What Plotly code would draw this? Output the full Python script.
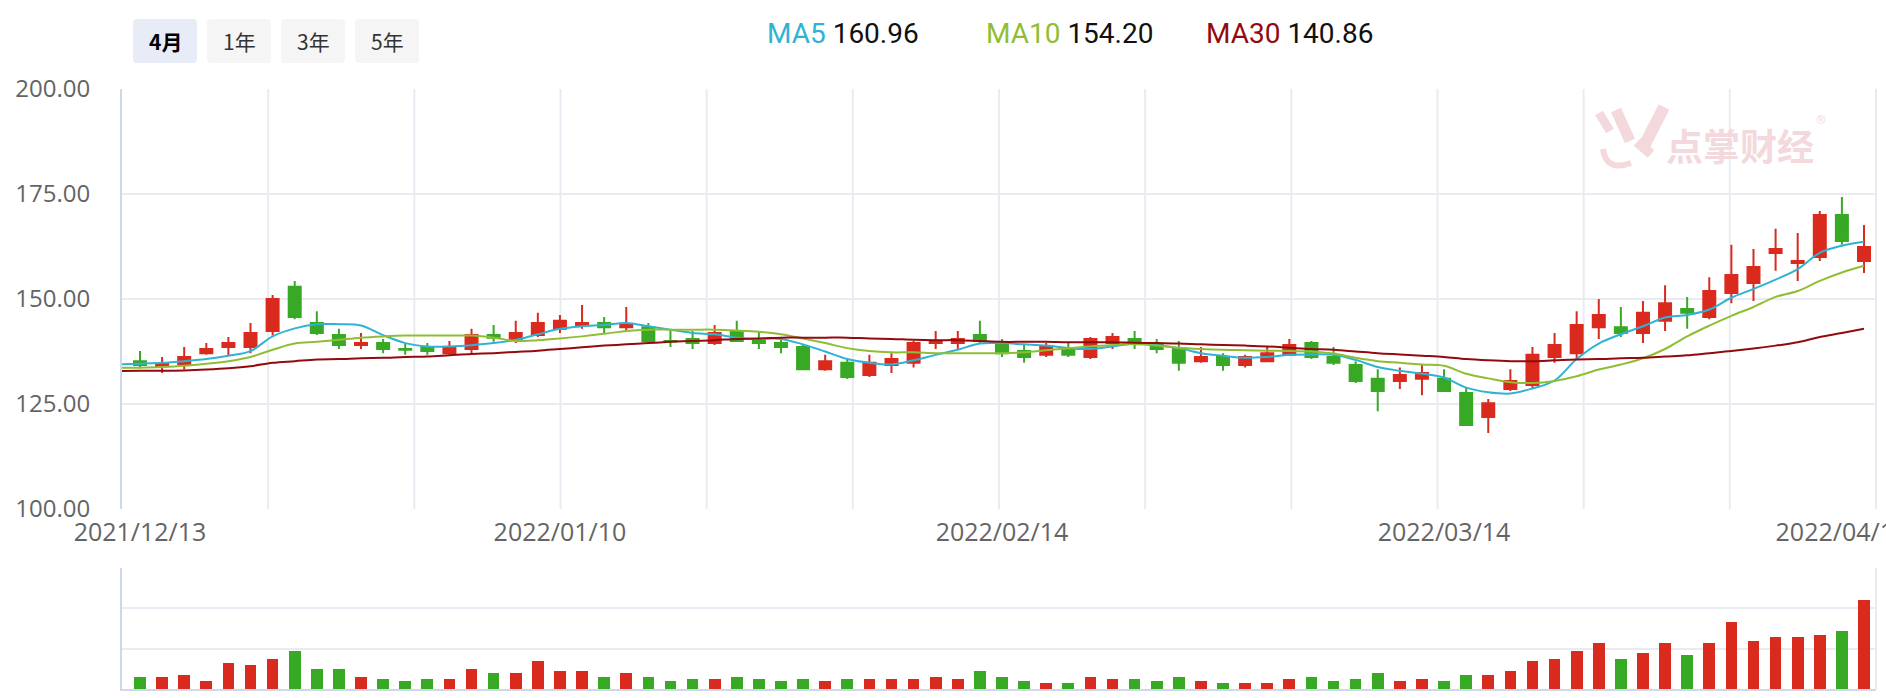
import plotly.graph_objects as go

W, H = 1886, 698

# ---------------- data ----------------
# trading days shown as candles
dates = (["2021/12/%02d" % d for d in [13, 14, 15, 16, 17, 20, 21, 22, 23, 24, 27, 28, 29, 30, 31]]
         + ["2022/01/%02d" % d for d in [4, 5, 6, 7, 10, 11, 12, 13, 14, 17, 18, 19, 20, 21, 24, 25, 26, 27, 28]]
         + ["2022/02/%02d" % d for d in [7, 8, 9, 10, 11, 14, 15, 16, 17, 18, 21, 22, 23, 24, 25, 28]]
         + ["2022/03/%02d" % d for d in [1, 2, 3, 4, 7, 8, 9, 10, 11, 14, 15, 16, 17, 18, 21, 22, 23, 24, 25, 28, 29, 30, 31]]
         + ["2022/04/%02d" % d for d in [1, 6, 7, 8, 11, 12]])
# the moving-average lines start one day earlier (just off the left edge)
ma_dates = ["2021/12/10"] + dates

open_ = [135.2, 134.0, 134.4, 137.1, 138.6, 138.6, 142.4, 152.9, 144.3, 141.4,
         139.05, 139.5, 138.1, 138.6, 137.1, 138.1, 141.4, 140.5, 141.4, 142.9,
         143.8, 144.3, 143.3, 143.3, 140.0, 140.5, 139.5, 142.4, 140.0, 139.5,
         138.6, 133.3, 134.8, 131.9, 134.3, 134.8, 139.5, 139.5, 141.4, 139.5,
         137.6, 136.7, 138.1, 136.2, 139.5, 140.5, 139.05, 138.1, 135.2, 136.2,
         134.3, 135.2, 136.7, 139.5, 136.2, 134.3, 131.0, 130.5, 131.0, 131.0,
         127.6, 121.9, 128.6, 129.5, 136.2, 137.1, 143.3, 143.3, 141.9, 144.8,
         147.6, 145.7, 151.4, 153.8, 160.95, 158.6, 160.0, 170.0, 159.05]
high = [137.6, 136.2, 138.6, 139.5, 140.95, 144.3, 150.95, 154.3, 147.1, 142.9,
        141.9, 140.5, 139.4, 139.5, 140.0, 142.9, 143.8, 144.8, 146.7, 146.2,
        148.6, 145.7, 148.1, 144.3, 142.4, 142.4, 143.8, 144.8, 142.4, 140.5,
        139.05, 136.7, 135.7, 136.7, 137.1, 140.0, 142.4, 142.4, 144.8, 140.5,
        139.05, 139.5, 139.5, 140.95, 141.9, 142.4, 140.5, 140.0, 138.6, 137.1,
        136.7, 138.6, 140.5, 140.0, 138.6, 135.2, 133.3, 133.7, 134.3, 133.3,
        129.0, 126.2, 133.3, 138.6, 141.9, 147.1, 150.0, 148.1, 149.5, 153.3,
        150.5, 155.2, 162.9, 161.9, 166.7, 165.7, 170.95, 174.3, 167.6]
low = [133.5, 132.4, 133.2, 136.7, 136.5, 137.1, 141.3, 145.2, 141.4, 138.1,
       138.1, 137.1, 136.7, 136.7, 136.7, 137.1, 139.8, 139.5, 140.95, 141.9,
       142.9, 141.9, 142.4, 139.5, 138.6, 138.1, 139.05, 139.9, 138.1, 137.1,
       133.3, 132.9, 130.95, 131.4, 132.4, 133.7, 138.1, 138.1, 139.5, 136.2,
       134.8, 136.2, 136.2, 135.7, 138.1, 138.1, 137.1, 132.9, 134.8, 132.9,
       133.7, 135.2, 136.7, 135.7, 134.3, 130.0, 123.3, 128.6, 127.1, 128.1,
       120.0, 118.1, 128.1, 128.6, 134.8, 135.7, 140.5, 140.95, 139.5, 142.4,
       142.9, 145.2, 149.0, 149.5, 156.7, 154.3, 159.05, 162.9, 156.2]
close = [134.3, 134.6, 136.2, 138.1, 139.5, 141.9, 150.0, 145.7, 141.9, 139.05,
         139.5, 138.1, 137.9, 137.6, 138.6, 141.4, 140.8, 141.9, 144.3, 144.8,
         144.3, 143.3, 143.8, 140.0, 139.9, 139.5, 141.9, 140.0, 139.5, 138.6,
         133.3, 135.2, 131.4, 134.8, 135.7, 139.5, 140.0, 140.5, 140.0, 137.1,
         136.2, 138.6, 136.7, 140.5, 140.95, 139.5, 138.1, 134.8, 136.2, 134.3,
         136.2, 137.1, 139.05, 136.2, 134.8, 130.5, 128.1, 131.9, 132.4, 128.1,
         120.0, 125.2, 130.5, 136.7, 139.05, 143.8, 146.2, 141.9, 146.7, 149.0,
         146.7, 151.9, 155.7, 157.6, 161.9, 159.05, 170.0, 163.8, 162.4]

volume = [12, 12, 14, 8, 26, 24, 30, 38, 20, 20,
          12, 10, 8, 10, 10, 20, 16, 16, 28, 18,
          18, 12, 16, 12, 8, 10, 10, 12, 10, 8,
          10, 8, 10, 10, 10, 10, 12, 10, 18, 12,
          8, 6, 6, 12, 10, 10, 8, 12, 8, 6,
          6, 6, 10, 12, 8, 10, 16, 8, 10, 8,
          14, 14, 18, 28, 30, 38, 46, 30, 36, 46,
          34, 46, 66, 48, 52, 52, 54, 58, 88]

ma5 = [134.45,
       134.6, 134.8, 135.2, 135.7, 136.5, 137.6, 141.1, 143.0, 144.0, 144.0,
       143.7, 141.4, 139.5, 138.7, 138.7, 139.0, 139.5, 140.3, 141.6, 142.9,
       143.5, 143.8, 144.3, 143.5, 142.7, 141.9, 141.6, 140.8, 140.5, 140.5,
       139.2, 137.5, 135.7, 134.8, 134.4, 135.4, 136.7, 137.9, 139.4, 139.5,
       139.2, 138.9, 138.3, 138.1, 138.7, 139.4, 139.05, 138.3, 137.1, 136.5,
       136.0, 136.2, 136.7, 136.8, 136.7, 135.5, 133.8, 132.9, 132.2, 131.3,
       128.9, 127.8, 127.5, 128.7, 130.6, 135.7, 139.4, 141.6, 143.5, 145.6,
       146.2, 147.5, 150.3, 152.4, 154.6, 157.1, 161.0, 162.7, 163.65]
ma10 = [133.6,
        133.65, 133.8, 134.1, 134.6, 135.2, 136.2, 137.9, 139.4, 139.8, 140.3,
        140.8, 141.1, 141.3, 141.3, 141.3, 141.3, 140.8, 140.0, 140.2, 140.6,
        141.1, 141.7, 142.4, 142.7, 142.7, 142.7, 142.7, 142.5, 142.2, 141.6,
        140.6, 139.5, 138.3, 137.6, 137.3, 137.3, 137.1, 137.1, 137.1, 137.1,
        137.3, 137.8, 138.3, 138.7, 139.05, 139.2, 138.9, 138.4, 138.1, 137.9,
        137.8, 137.7, 137.6, 137.5, 137.0, 136.0, 135.2, 134.8, 134.4, 134.1,
        132.2, 131.1, 130.2, 130.0, 130.5, 131.6, 133.2, 134.4, 135.9, 138.1,
        141.1, 143.65, 146.0, 148.1, 150.5, 151.9, 154.3, 156.3, 157.9]
ma30 = [132.85,
        132.9, 132.9, 133.0, 133.2, 133.5, 134.0, 134.8, 135.2, 135.6, 135.7,
        135.9, 136.0, 136.2, 136.3, 136.6, 136.9, 137.1, 137.4, 137.7, 138.1,
        138.5, 138.9, 139.2, 139.5, 139.8, 140.0, 140.2, 140.5, 140.6, 140.8,
        140.8, 140.8, 140.8, 140.6, 140.5, 140.3, 140.2, 140.2, 140.0, 139.8,
        139.8, 139.8, 139.7, 139.7, 139.7, 139.6, 139.5, 139.4, 139.2, 139.05,
        138.9, 138.7, 138.4, 138.1, 137.9, 137.5, 137.1, 136.8, 136.5, 136.2,
        135.7, 135.4, 135.2, 135.2, 135.4, 135.6, 135.7, 135.9, 136.0, 136.3,
        136.6, 137.1, 137.6, 138.2, 138.9, 139.7, 140.95, 141.9, 142.9]

tick_dates = ["2021/12/13", "2022/01/10", "2022/02/14", "2022/03/14", "2022/04/11"]
y_ticks = [100, 125, 150, 175, 200]

ma_names = ["MA5", "MA10", "MA30"]
ma_legend_values = ["160.96", "154.20", "140.86"]
range_buttons = ["4月", "1年", "3年", "5年"]
watermark_text = "点掌财经"

# ---------------- styles ----------------
RED = "#da2a1d"
GREEN = "#38a925"
MA_COLORS = ["#2fb3d5", "#8fbe35", "#930a0e"]
GRID = "#e8ecf2"
AXIS = "#cdd8ea"
LABEL = "#646464"
WM = "#f4d9dc"


def px(x):
    return x / W


def py(y):
    return 1 - y / H


def P(x, y):
    return f"{px(x):.6f},{py(y):.6f}"


def rounded_rect(x0, y0, x1, y1, r):
    return (f"M {P(x0 + r, y0)} L {P(x1 - r, y0)} Q {P(x1, y0)} {P(x1, y0 + r)} "
            f"L {P(x1, y1 - r)} Q {P(x1, y1)} {P(x1 - r, y1)} L {P(x0 + r, y1)} "
            f"Q {P(x0, y1)} {P(x0, y1 - r)} L {P(x0, y0 + r)} Q {P(x0, y0)} {P(x0 + r, y0)} Z")


fig = go.Figure()

fig.add_trace(go.Candlestick(
    x=dates, open=open_, high=high, low=low, close=close,
    increasing=dict(line=dict(color=RED, width=2), fillcolor=RED),
    decreasing=dict(line=dict(color=GREEN, width=2), fillcolor=GREEN),
    whiskerwidth=0, xaxis="x", yaxis="y", hoverinfo="skip"))

for name, vals, col in zip(ma_names, [ma5, ma10, ma30], MA_COLORS):
    fig.add_trace(go.Scatter(x=ma_dates, y=vals, mode="lines", name=name,
                             line=dict(color=col, width=2, shape="spline", smoothing=1.0),
                             xaxis="x", yaxis="y", hoverinfo="skip"))

vol_colors = [RED if c >= o else GREEN for o, c in zip(open_, close)]
fig.add_trace(go.Bar(x=dates, y=volume, marker=dict(color=vol_colors, line=dict(width=0)),
                     width=0.53, xaxis="x2", yaxis="y2", hoverinfo="skip"))

# category positions: ma_dates[0] is position 0, first candle is position 1
xr = [0.186, 79.543]
xdom = [px(122), px(1876)]

shapes = []
# vertical grid lines of the price pane
for k in range(1, 13):
    shapes.append(dict(type="line", xref="x domain", yref="y domain", x0=k / 12, x1=k / 12,
                       y0=0, y1=1, line=dict(color=GRID, width=2), layer="below"))
# right edge of volume pane
shapes.append(dict(type="line", xref="x2 domain", yref="y2 domain", x0=1, x1=1, y0=0, y1=1,
                   line=dict(color=GRID, width=2), layer="below"))

# range buttons
btn_x = [133, 207, 281, 355]
annotations = []
for i, (lab, bx) in enumerate(zip(range_buttons, btn_x)):
    shapes.append(dict(type="path", xref="paper", yref="paper",
                       path=rounded_rect(bx, 19, bx + 64, 63, 4),
                       fillcolor="#e8ecf6" if i == 0 else "#f5f5f5", line=dict(width=0)))
    annotations.append(dict(xref="paper", yref="paper", x=px(bx + 32), y=py(41),
                            text=f"<b>{lab}</b>" if i == 0 else lab, showarrow=False,
                            xanchor="center", yanchor="middle",
                            font=dict(family="Noto Sans CJK SC", size=21,
                                      color="#000000" if i == 0 else "#333333")))

# MA legend
leg_x = [765, 984, 1204]
for name, val, col, lx in zip(ma_names, ma_legend_values, MA_COLORS, leg_x):
    annotations.append(dict(xref="paper", yref="paper", x=px(lx), y=py(33),
                            text=f"<span style='color:{col}'>{name}</span> {val}",
                            showarrow=False, xanchor="left", yanchor="middle",
                            font=dict(family="Roboto", size=28, color="#111111")))

# watermark
annotations.append(dict(xref="paper", yref="paper", x=px(1740), y=py(145), text=f"<b>{watermark_text}</b>",
                        showarrow=False, xanchor="center", yanchor="middle",
                        font=dict(family="Noto Sans CJK SC", size=37, color=WM)))
annotations.append(dict(xref="paper", yref="paper", x=px(1821), y=py(120), text="®",
                        showarrow=False, xanchor="center", yanchor="middle",
                        font=dict(family="DejaVu Sans", size=12, color=WM)))
for (x0, y0, x1, y1, w) in [(1599, 113, 1610, 131, 9), (1616, 110, 1630, 141, 11),
                            (1664, 107, 1643, 148, 12), (1637, 142, 1651, 154, 10)]:
    shapes.append(dict(type="line", xref="paper", yref="paper", x0=px(x0), y0=py(y0),
                       x1=px(x1), y1=py(y1), line=dict(color=WM, width=w)))
shapes.append(dict(type="path", xref="paper", yref="paper",
                   path=f"M {P(1603, 149)} Q {P(1606, 172)} {P(1631, 163)}",
                   line=dict(color=WM, width=6)))

fig.update_layout(
    width=W, height=H,
    autosize=False,
    margin=dict(l=0, r=0, t=0, b=0, pad=0, autoexpand=False),
    paper_bgcolor="white", plot_bgcolor="white",
    showlegend=False,
    boxgap=0.457, boxgroupgap=0.0,
    bargap=0,
    shapes=shapes,
    annotations=annotations,
    xaxis=dict(domain=xdom, range=xr, type="category", anchor="y", automargin=False,
               categoryorder="array", categoryarray=ma_dates,
               rangeslider=dict(visible=False),
               showgrid=False, zeroline=False, showline=False,
               tickmode="array", tickvals=tick_dates, ticktext=tick_dates,
               ticks="", ticklabelstandoff=6, ticklabeloverflow="allow",
               tickfont=dict(family="Open Sans", size=25, color=LABEL)),
    yaxis=dict(domain=[py(509), py(89)], range=[100, 200], anchor="x", automargin=False,
               tickmode="array", tickvals=y_ticks, tickformat=".2f",
               showgrid=True, gridcolor=GRID, gridwidth=2, zeroline=False,
               showline=True, linecolor=AXIS, linewidth=2,
               ticks="", ticklabelstandoff=25,
               tickfont=dict(family="Open Sans", size=24, color=LABEL)),
    xaxis2=dict(domain=xdom, range=xr, type="category", anchor="y2", automargin=False,
                categoryorder="array", categoryarray=ma_dates,
                showgrid=False, zeroline=False, showticklabels=False, ticks="",
                showline=True, linecolor=AXIS, linewidth=2),
    yaxis2=dict(domain=[py(689), py(568)], range=[0, 120], anchor="x2", automargin=False,
                tickmode="array", tickvals=[40, 80, 120], showticklabels=False,
                showgrid=True, gridcolor=GRID, gridwidth=2, zeroline=False,
                showline=True, linecolor=AXIS, linewidth=2, ticks=""),
)

fig.write_html("out.html")
